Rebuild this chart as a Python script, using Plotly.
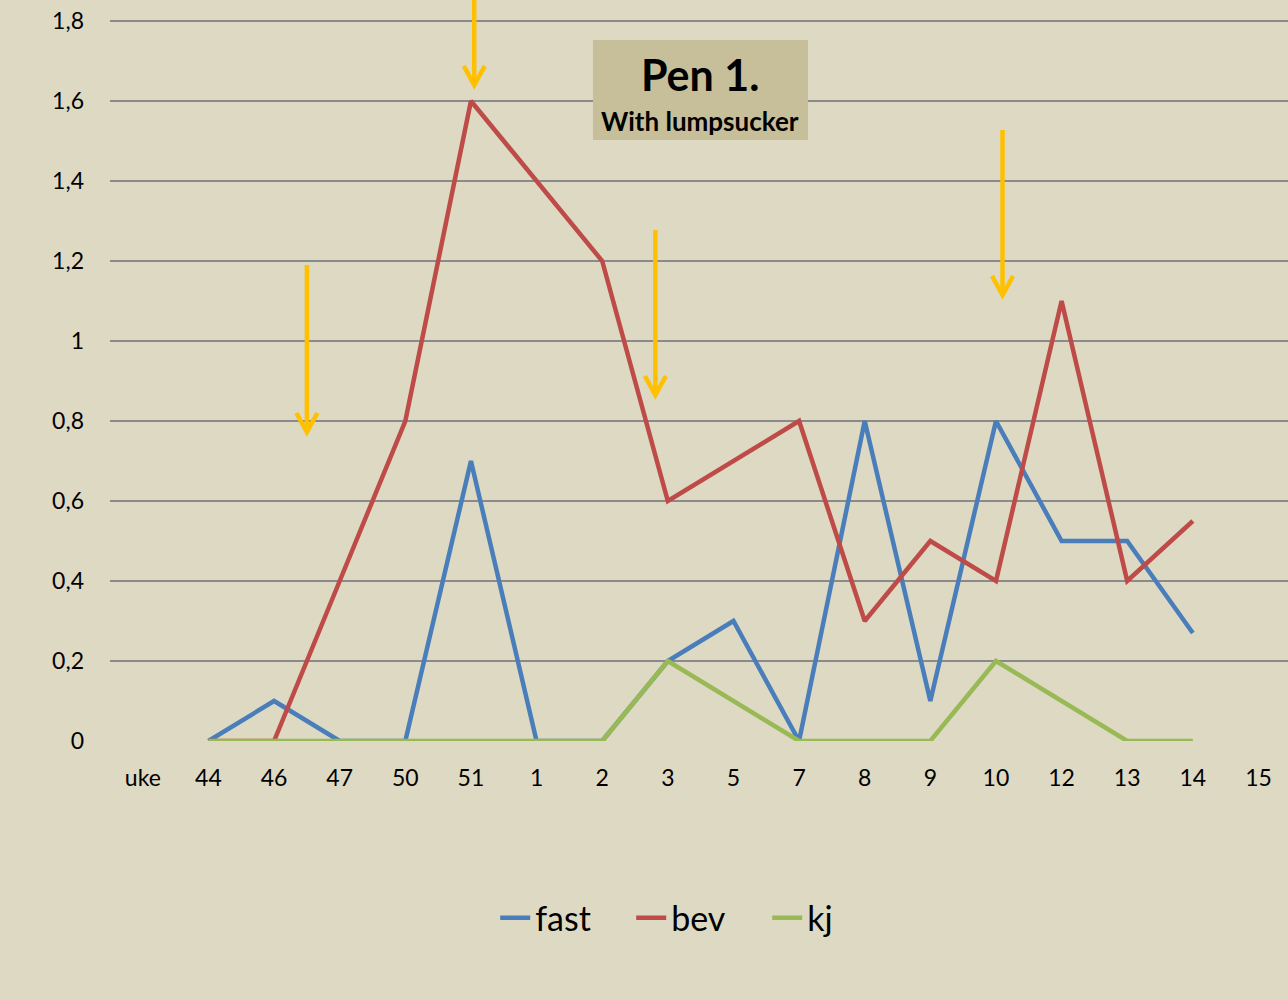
"""Pen 1 weekly line chart with arrow markers."""

import plotly.graph_objects as go

WEEKS = ["uke", "44", "46", "47", "50", "51", "1", "2", "3", "5", "7", "8", "9", "10", "12", "13", "14", "15"]
FAST = [None, 0, 0.1, 0, 0, 0.7, 0, 0, 0.2, 0.3, 0, 0.8, 0.1, 0.8, 0.5, 0.5, 0.27, None]
BEV = [None, 0, 0, 0.4, 0.8, 1.6, 1.4, 1.2, 0.6, 0.7, 0.8, 0.3, 0.5, 0.4, 1.1, 0.4, 0.55, None]
KJ = [None, 0, 0, 0, 0, 0, 0, 0, 0.2, 0.1, 0, 0, 0, 0.2, 0.1, 0, 0, None]

# treatment arrows: x position (category index), tail value, tip value
ARROW_X = [2.5, 5.05, 7.81, 13.1]
ARROW_TAIL = [1.19, 1.86, 1.2775, 1.5275]
ARROW_TIP = [0.7725, 1.64, 0.865, 1.115]

Y_TICKS = [0, 0.2, 0.4, 0.6, 0.8, 1.0, 1.2, 1.4, 1.6, 1.8]
Y_LABELS = ["0", "0,2", "0,4", "0,6", "0,8", "1", "1,2", "1,4", "1,6", "1,8"]

BG = "#ddd9c3"
FONT = "Lato"
ARROW_COLOR = "#ffc000"
PX_PER_X = 65.6   # pixels per category
PX_PER_Y = 400.0  # pixels per value unit

x_idx = list(range(len(WEEKS)))

fig = go.Figure()
for name, values, color in [
    ("fast", FAST, "#4a7ebb"),
    ("bev", BEV, "#be4b48"),
    ("kj", KJ, "#98b954"),
]:
    fig.add_trace(
        go.Scatter(
            x=x_idx,
            y=values,
            name=name,
            mode="lines",
            line={"color": color, "width": 4.5},
            connectgaps=False,
        )
    )

head_dx = 10.5 / PX_PER_X
head_dy = 19.0 / PX_PER_Y
for x, tail, tip in zip(ARROW_X, ARROW_TAIL, ARROW_TIP):
    fig.add_shape(
        type="line", xref="x", yref="y", x0=x, x1=x, y0=tail, y1=tip + 0.01,
        line={"color": ARROW_COLOR, "width": 4.5},
    )
    fig.add_shape(
        type="path", xref="x", yref="y",
        path=f"M {x - head_dx},{tip + head_dy} L {x},{tip} L {x + head_dx},{tip + head_dy}",
        line={"color": ARROW_COLOR, "width": 4.5},
    )

# title box
fig.add_shape(
    type="rect", xref="paper", yref="paper",
    x0=0.41, x1=0.5925, y0=0.811, y1=0.946,
    fillcolor="#c6bf99", line={"width": 0}, layer="above",
)
fig.add_annotation(
    text="<b>Pen 1.</b>", xref="paper", yref="paper", x=0.5008, y=0.8988,
    xanchor="center", yanchor="middle",
    showarrow=False, font={"family": FONT, "size": 43, "color": "#000000"},
)
fig.add_annotation(
    text="<b>With lumpsucker</b>", xref="paper", yref="paper", x=0.5008, y=0.8367,
    xanchor="center", yanchor="middle",
    showarrow=False, font={"family": FONT, "size": 26, "color": "#000000"},
)

fig.update_layout(
    width=1288,
    height=1000,
    paper_bgcolor=BG,
    plot_bgcolor=BG,
    margin={"l": 110, "r": 0, "t": 0, "b": 259},
    font={"family": FONT, "size": 23, "color": "#000000"},
    showlegend=True,
    legend={
        "orientation": "h", "x": 0.327, "xanchor": "left",
        "y": -0.239, "yanchor": "middle",
        "entrywidth": 91, "entrywidthmode": "pixels",
        "font": {"size": 34}, "bgcolor": "rgba(0,0,0,0)",
    },
)
fig.update_xaxes(
    range=[-0.5, 17.45],
    tickmode="array", tickvals=x_idx, ticktext=WEEKS,
    showgrid=False, zeroline=False, showline=False,
    ticks="", ticklabelstandoff=21,
)
fig.update_yaxes(
    range=[0, 1.8525],
    tickmode="array", tickvals=Y_TICKS, ticktext=Y_LABELS,
    showgrid=True, gridcolor="#8a8a8a", gridwidth=2,
    zeroline=False, showline=False, ticks="", ticklabelstandoff=25,
)

fig.write_html(
    "out.html",
    config={"displayModeBar": False},
    post_script="document.body.style.margin='0';",
)
